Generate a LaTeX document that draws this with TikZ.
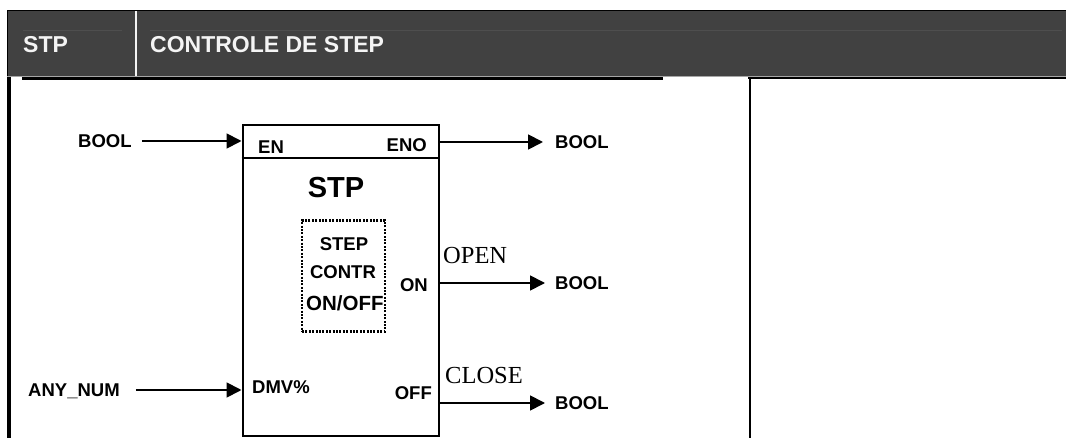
\documentclass[tikz,border=0pt]{standalone}
\usepackage{fontspec}
\setmainfont{Liberation Sans}
\newfontfamily\tnr{Liberation Serif}
\usetikzlibrary{arrows.meta,positioning,calc}
\definecolor{hdgray}{RGB}{65,65,65}
\definecolor{hdline}{RGB}{78,78,78}
\definecolor{hdtext}{RGB}{244,244,244}
\tikzset{
  pin/.style={inner sep=0pt,text depth=0pt,font=\fontsize{18.5}{20}\selectfont\bfseries},
  sig/.style={inner sep=0pt,text depth=0pt,font=\fontsize{24.5}{26}\selectfont\tnr},
  hd/.style={inner sep=0pt,text depth=0pt,text=hdtext,font=\fontsize{23}{25}\selectfont\bfseries},
  fb/.style={rectangle,draw,line width=2pt,inner sep=0pt},
  ctrl/.style={rectangle,draw,line width=2.6pt,dash pattern=on 2pt off 1.4pt,inner sep=0pt},
  arr/.style={-{Triangle[length=15pt,width=15pt]},line width=1.8pt}
}

\begin{document}
\begin{tikzpicture}[x=1pt,y=-1pt]
  \useasboundingbox (0,0) rectangle (1066,438);
  % header
  \fill[hdgray] (7,11) rectangle (1066,77);
  \draw[line width=1pt] (7,11) -- (1066,11);
  \draw[line width=1pt] (7.5,11) -- (7.5,77);
  \draw[hdline,line width=0.8pt] (23,30) -- (122,30) (150,30) -- (1062,30);
  \draw[gray!70,line width=1pt] (7,76.5) -- (1066,76.5);
  \draw[hdtext,line width=1.5pt] (136,11.5) -- (136,76);
  \node[hd,anchor=west] (hdcode) at (23,44) {STP};
  \node[hd,anchor=west] (hdtitle) at (150,44) {CONTROLE DE STEP};

  % table frame
  \draw[line width=3.5pt] (9,77) -- (9,438);
  \draw[line width=3pt] (22,79) -- (663,79);
  \draw[line width=1.2pt] (748,78) -- (1066,78);
  \draw[line width=2pt] (750,77) -- (750,438);

  % function block
  \node[fb,minimum width=196pt,minimum height=311pt] (blk) at (340.5,280.5) {};
  \coordinate (ensep) at (0,158);
  \draw[line width=1.5pt] (blk.west |- ensep) -- (blk.east |- ensep);
  \node[font=\fontsize{29}{31}\selectfont\bfseries,inner sep=0pt] (blkname) at (336,188) {STP};
  \node[ctrl,minimum width=83pt,minimum height=111pt] (ctrlbox) at (343.5,276) {};
  \node[pin] (ctrla) at (344,244) {STEP};
  \node[pin] (ctrlb) at (343,272) {CONTR};
  \node[pin,font=\fontsize{20.5}{22}\selectfont\bfseries,anchor=west] (ctrlc) at (306,303) {ON/OFF};

  % pins
  \node[pin,anchor=west] (pen) at (258,147) {EN};
  \node[pin,anchor=east] (peno) at (427,145) {ENO};
  \node[pin,anchor=east] (pon) at (428,285) {ON};
  \node[pin,anchor=west] (pdmv) at (252,387) {DMV\%};
  \node[pin,anchor=east] (poff) at (432,393) {OFF};

  % inputs
  \node[pin,anchor=west] (inen) at (78,141) {BOOL};
  \node[pin,anchor=west] (indmv) at (28,390) {ANY\_NUM};
  \draw[arr] ([xshift=10pt]inen.east) -- (inen.east -| blk.west);
  \draw[arr] ([xshift=16pt]indmv.east) -- (indmv.east -| blk.west);

  % outputs
  \node[pin,anchor=west] (outeno) at (555,142) {BOOL};
  \node[pin,anchor=west] (outon) at (555,283) {BOOL};
  \node[pin,anchor=west] (outoff) at (555,403) {BOOL};
  \draw[arr] (blk.east |- outeno.west) -- ([xshift=-12pt]outeno.west);
  \draw[arr] (blk.east |- outon.west) -- ([xshift=-10pt]outon.west);
  \draw[arr] (blk.east |- outoff.west) -- ([xshift=-10pt]outoff.west);
  \node[sig,anchor=west] (lopen) at (443,255) {OPEN};
  \node[sig,anchor=west] (lclose) at (445,375) {CLOSE};
\end{tikzpicture}
\end{document}
